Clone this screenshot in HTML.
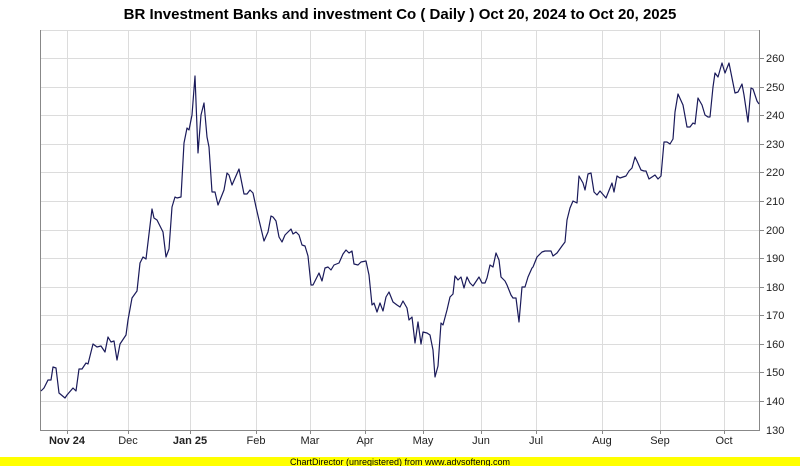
<!DOCTYPE html>
<html><head><meta charset="utf-8"><style>
body{margin:0;background:#fff;width:800px;height:466px;overflow:hidden}
text{font-family:"Liberation Sans",Arial,sans-serif}
</style></head><body>
<svg width="800" height="466" viewBox="0 0 800 466" xmlns="http://www.w3.org/2000/svg">
<rect width="800" height="466" fill="#fff"/>
<text x="400" y="19" font-size="15" font-weight="bold" text-anchor="middle" fill="#000">BR Investment Banks and investment Co ( Daily ) Oct 20, 2024 to Oct 20, 2025</text>
<g stroke="#dcdcdc" stroke-width="1">
<line x1="40" x2="760" y1="58.5" y2="58.5"/><line x1="40" x2="760" y1="87.5" y2="87.5"/><line x1="40" x2="760" y1="115.5" y2="115.5"/><line x1="40" x2="760" y1="144.5" y2="144.5"/><line x1="40" x2="760" y1="172.5" y2="172.5"/><line x1="40" x2="760" y1="201.5" y2="201.5"/><line x1="40" x2="760" y1="230.5" y2="230.5"/><line x1="40" x2="760" y1="258.5" y2="258.5"/><line x1="40" x2="760" y1="287.5" y2="287.5"/><line x1="40" x2="760" y1="315.5" y2="315.5"/><line x1="40" x2="760" y1="344.5" y2="344.5"/><line x1="40" x2="760" y1="372.5" y2="372.5"/><line x1="40" x2="760" y1="401.5" y2="401.5"/>
<line x1="67.5" x2="67.5" y1="30" y2="430"/><line x1="128.5" x2="128.5" y1="30" y2="430"/><line x1="190.5" x2="190.5" y1="30" y2="430"/><line x1="256.5" x2="256.5" y1="30" y2="430"/><line x1="310.5" x2="310.5" y1="30" y2="430"/><line x1="365.5" x2="365.5" y1="30" y2="430"/><line x1="423.5" x2="423.5" y1="30" y2="430"/><line x1="481.5" x2="481.5" y1="30" y2="430"/><line x1="536.5" x2="536.5" y1="30" y2="430"/><line x1="602.5" x2="602.5" y1="30" y2="430"/><line x1="660.5" x2="660.5" y1="30" y2="430"/><line x1="724.5" x2="724.5" y1="30" y2="430"/>
<line x1="40" x2="760" y1="30.5" y2="30.5"/>
</g>
<g stroke="#888" stroke-width="1">
<line x1="40.5" x2="40.5" y1="30" y2="431"/><line x1="40" x2="760" y1="430.5" y2="430.5"/><line x1="759.5" x2="759.5" y1="30" y2="431"/>
</g>
<g stroke="#888"><line x1="760" x2="764" y1="58.5" y2="58.5"/><line x1="760" x2="764" y1="87.5" y2="87.5"/><line x1="760" x2="764" y1="115.5" y2="115.5"/><line x1="760" x2="764" y1="144.5" y2="144.5"/><line x1="760" x2="764" y1="172.5" y2="172.5"/><line x1="760" x2="764" y1="201.5" y2="201.5"/><line x1="760" x2="764" y1="230.5" y2="230.5"/><line x1="760" x2="764" y1="258.5" y2="258.5"/><line x1="760" x2="764" y1="287.5" y2="287.5"/><line x1="760" x2="764" y1="315.5" y2="315.5"/><line x1="760" x2="764" y1="344.5" y2="344.5"/><line x1="760" x2="764" y1="372.5" y2="372.5"/><line x1="760" x2="764" y1="401.5" y2="401.5"/>
<line x1="67.5" x2="67.5" y1="430" y2="434"/><line x1="128.5" x2="128.5" y1="430" y2="434"/><line x1="190.5" x2="190.5" y1="430" y2="434"/><line x1="256.5" x2="256.5" y1="430" y2="434"/><line x1="310.5" x2="310.5" y1="430" y2="434"/><line x1="365.5" x2="365.5" y1="430" y2="434"/><line x1="423.5" x2="423.5" y1="430" y2="434"/><line x1="481.5" x2="481.5" y1="430" y2="434"/><line x1="536.5" x2="536.5" y1="430" y2="434"/><line x1="602.5" x2="602.5" y1="430" y2="434"/><line x1="660.5" x2="660.5" y1="430" y2="434"/><line x1="724.5" x2="724.5" y1="430" y2="434"/></g>
<g font-size="11" fill="#222">
<text x="766" y="62">260</text><text x="766" y="91">250</text><text x="766" y="119">240</text><text x="766" y="148">230</text><text x="766" y="176">220</text><text x="766" y="205">210</text><text x="766" y="234">200</text><text x="766" y="262">190</text><text x="766" y="291">180</text><text x="766" y="319">170</text><text x="766" y="348">160</text><text x="766" y="376">150</text><text x="766" y="405">140</text><text x="766" y="434">130</text>
</g>
<g font-size="11" fill="#222" text-anchor="middle">
<text x="67" y="444" font-weight="bold">Nov 24</text><text x="128" y="444">Dec</text><text x="190" y="444" font-weight="bold">Jan 25</text><text x="256" y="444">Feb</text><text x="310" y="444">Mar</text><text x="365" y="444">Apr</text><text x="423" y="444">May</text><text x="481" y="444">Jun</text><text x="536" y="444">Jul</text><text x="602" y="444">Aug</text><text x="660" y="444">Sep</text><text x="724" y="444">Oct</text>
</g>
<polyline fill="none" stroke="#1a1a5a" stroke-width="1.2" stroke-linejoin="round" points="41,391 44,388 48,380 51,380 53,367 56,368 59,393 65,398 67,395 73,388 76,391 79,369 82,369 86,363 88,364 93,344 97,347 101,346 105,352 108,337 111,342 114,341 117,360 120,344 126,335 128,320 132,298 137,291 140,263 143,257 146,259 152,209 154,218 157,220 163,232 166,257 169,249 172,207 175,197 177,198 181,197 184,143 187,128 189,130 192,115 195,76 198,153 201,115 204,103 207,137 209,147 212,192 215,192 218,205 224,190 227,173 229,175 232,185 239,169 244,194 247,194 250,190 253,193 256,207 259,220 264,241 268,232 271,216 273,217 276,221 279,237 282,242 285,235 291,229 293,234 296,232 299,235 302,245 305,246 308,256 311,285 313,285 319,273 322,281 325,268 328,267 331,270 334,265 339,263 343,254 346,250 349,253 352,251 354,264 358,265 361,262 366,261 369,275 372,305 374,303 377,312 380,303 383,311 386,297 389,292 393,302 397,305 400,307 403,301 407,308 409,320 412,317 415,343 418,322 421,344 423,332 427,333 430,335 433,350 435,377 438,366 441,323 443,325 447,310 450,297 453,294 455,276 458,280 461,277 464,288 467,277 470,283 473,286 479,277 482,283 485,283 487,278 490,265 493,267 496,253 499,260 501,277 505,281 507,285 511,295 513,298 516,298 519,322 522,287 525,287 528,277 532,268 533,267 537,257 542,252 545,251 548,251 551,251 553,256 557,253 562,246 565,242 567,220 570,208 573,201 577,203 579,176 583,183 585,190 588,174 591,173 594,192 597,195 600,191 606,198 612,183 614,192 617,176 620,178 623,177 626,176 629,171 632,168 635,157 637,161 641,170 644,171 646,171 649,179 655,175 658,179 661,176 664,142 667,142 670,144 673,139 675,112 678,94 683,105 687,127 690,127 693,123 695,124 698,98 702,105 705,115 708,117 710,117 713,87 715,73 718,77 722,63 725,73 729,63 735,93 738,92 742,84 744,95 748,122 751,88 753,89 757,101 759,104"/>
<rect x="0" y="457" width="800" height="9" fill="#ffff00"/>
<text x="400" y="465" font-size="9" text-anchor="middle" fill="#000">ChartDirector (unregistered) from www.advsofteng.com</text>
</svg>
</body></html>
